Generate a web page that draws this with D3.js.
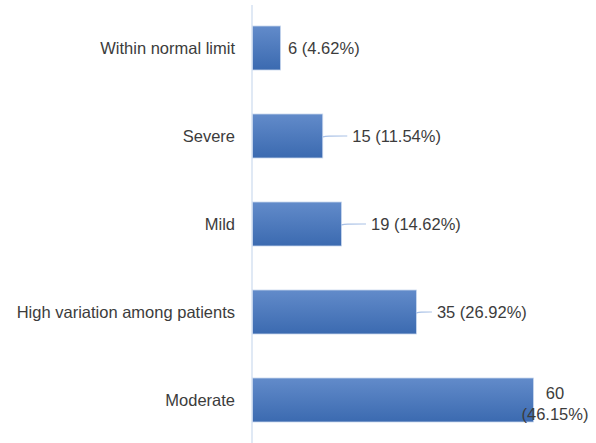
<!DOCTYPE html>
<html>
<head>
<meta charset="utf-8">
<script src="https://cdn.jsdelivr.net/npm/d3@7"></script>
<style>
  body { margin: 0; background: #fff; }
  text { font-family: "Liberation Sans", Arial, sans-serif; fill: #3c3c3c; font-size: 16.5px; }
</style>
</head>
<body>
<svg id="chart" width="596" height="443"></svg>
<script>
var categories = ["Within normal limit", "Severe", "Mild", "High variation among patients", "Moderate"]
var counts = [6, 15, 19, 35, 60]
var percents = ["4.62%", "11.54%", "14.62%", "26.92%", "46.15%"]

var width = 596, height = 443
var axisX = 252

var svg = d3.select("#chart")

var grad = svg.append("defs").append("linearGradient")
    .attr("id", "barGrad").attr("x1", 0).attr("y1", 0).attr("x2", 0).attr("y2", 1)
grad.append("stop").attr("offset", "0%").attr("stop-color", "#628bca")
grad.append("stop").attr("offset", "100%").attr("stop-color", "#3b6ab0")

var x = d3.scaleLinear()
    .domain([0, 60])
    .range([axisX, 533])

var y = d3.scaleBand()
    .domain(categories)
    .range([4, 444])
    .paddingInner(0.5)
    .paddingOuter(0.25)

// vertical axis line
svg.append("line")
    .attr("x1", axisX).attr("x2", axisX)
    .attr("y1", 5).attr("y2", height)
    .attr("stroke", "#d6e2f2").attr("stroke-width", 1.5)

var rows = categories.map(function(c, i) { return {cat: c, n: counts[i], pct: percents[i]} })

svg.selectAll("rect.bar").data(rows)
    .enter().append("rect")
    .attr("class", "bar")
    .attr("x", axisX + 0.5)
    .attr("y", function(d) { return y(d.cat) })
    .attr("width", function(d) { return x(d.n) - axisX })
    .attr("height", y.bandwidth())
    .attr("fill", "url(#barGrad)")
    .attr("stroke", "#c9d8ee").attr("stroke-width", 0.8)

// category labels
svg.selectAll("text.cat").data(rows)
    .enter().append("text")
    .attr("class", "cat")
    .attr("x", 235)
    .attr("y", function(d) { return y(d.cat) + y.bandwidth() / 2 })
    .attr("dy", "0.35em")
    .attr("text-anchor", "end")
    .text(function(d) { return d.cat })

// value labels with leader lines
rows.forEach(function(d, i) {
    var cy = y(d.cat) + y.bandwidth() / 2
    var x0 = x(d.n)
    if (i == 0) {
        svg.append("text").attr("x", x0 + 8).attr("y", cy).attr("dy", "0.35em")
            .text(d.n + " (" + d.pct + ")")
    } else if (i < 4) {
        var gap = i == 3 ? 16 : 25
        svg.append("path")
            .attr("d", d3.line().curve(d3.curveBasis)([[x0, cy + 1], [x0 + 4, cy], [x0 + gap, cy]]))
            .attr("fill", "none").attr("stroke", "#a9c1e6").attr("stroke-width", 1.2)
        svg.append("text").attr("x", x0 + gap + 5).attr("y", cy).attr("dy", "0.35em")
            .text(d.n + " (" + d.pct + ")")
    } else {
        svg.append("text").attr("x", 555).attr("y", cy - 7).attr("dy", "0.35em")
            .attr("text-anchor", "middle").text(d.n)
        svg.append("text").attr("x", 555).attr("y", cy + 14).attr("dy", "0.35em")
            .attr("text-anchor", "middle").text("(" + d.pct + ")")
    }
})
</script>
</body>
</html>
